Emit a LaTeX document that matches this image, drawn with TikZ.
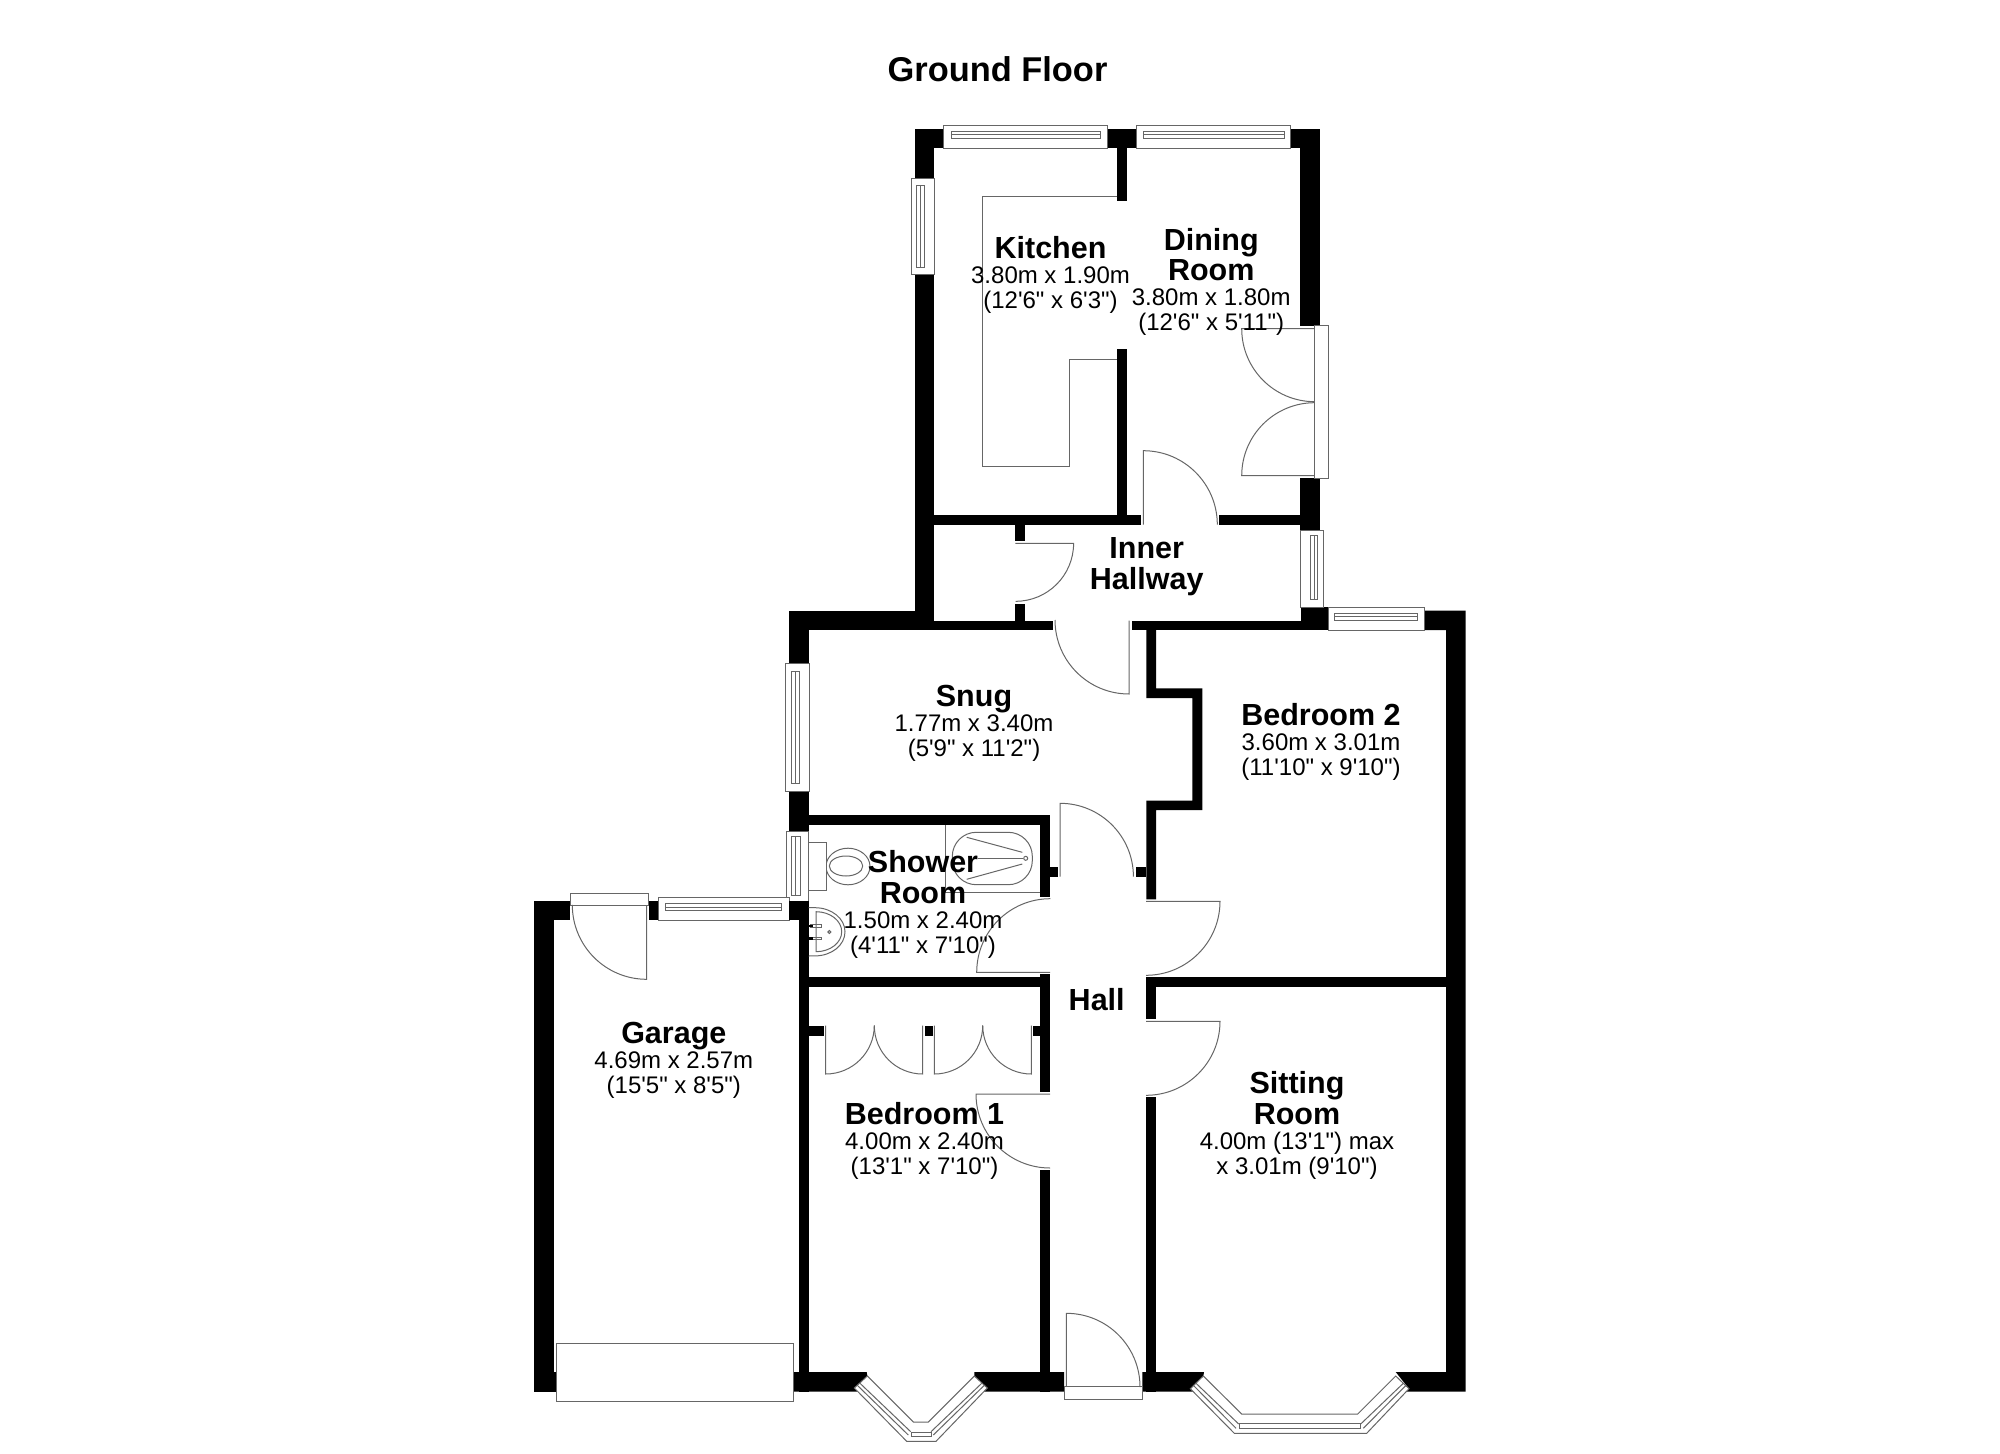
\documentclass[tikz,border=0pt]{standalone}
\usepackage{fontspec}
\newfontfamily\planfont{Liberation Sans}
\newcommand{\roomname}[1]{{\fontsize{15.25}{15.5}\selectfont\bfseries #1}}
\tikzset{
  wall/.style={fill=black},
  fixture/.style={draw=black!60,line width=0.5pt,fill=white},
  thinline/.style={draw=black!60,line width=0.5pt},
  room/.style={anchor=base,align=center,inner sep=0pt,font=\planfont\fontsize{12}{12.5}\selectfont}
}
\begin{document}
\begin{tikzpicture}[x=0.5pt,y=-0.5pt]
  \useasboundingbox (0,0) rectangle (2000,1454);
  % kitchen and dining room
  \fill [wall] (914.7,128.7) rectangle (943.7,148.3);
  \fill [wall] (1107.7,128.7) rectangle (1136.7,148.3);
  \fill [wall] (1290.7,128.7) rectangle (1320,148.3);
  \fill [wall] (914.7,128.7) rectangle (934,178.3);
  \fill [wall] (914.7,274.7) rectangle (934.3,630);
  \fill [wall] (1300,128.7) rectangle (1320,326);
  \fill [wall] (1300,478) rectangle (1320,530);
  \fill [wall] (1117.3,148) rectangle (1127.3,201);
  \fill [wall] (1117.3,349.3) rectangle (1127.3,515);
  \fill [wall] (934,514.7) rectangle (1141,524.5);
  \fill [wall] (1219,514.7) rectangle (1300,524.5);
  % inner hallway
  \fill [wall] (1015.3,524) rectangle (1025.3,541);
  \fill [wall] (1015.3,603.7) rectangle (1025.3,621);
  \fill [wall] (789,620.7) rectangle (1053.3,630);
  \fill [wall] (1131.8,620.7) rectangle (1328,630);
  \fill [wall] (1300.8,607.3) rectangle (1328,630);
  % snug and shower room
  \fill [wall] (789,610.7) rectangle (914.7,630);
  \fill [wall] (789,610.7) rectangle (809,663.3);
  \fill [wall] (789,791) rectangle (809,831);
  \fill [wall] (789,901) rectangle (808.7,920.3);
  \fill [wall] (809,815) rectangle (1050,825);
  \fill [wall] (1039.7,815) rectangle (1050,896.7);
  \fill [wall] (1050,867.3) rectangle (1058.3,876.7);
  \fill [wall] (799,901) rectangle (808.7,1391.7);
  \fill [wall] (808.7,977.3) rectangle (1050,987.3);
  % bedroom 1 and the front of the hall
  \fill [wall] (1040,974.3) rectangle (1050,1092);
  \fill [wall] (1040,1170) rectangle (1050,1391.7);
  \fill [wall] (808.7,1025.7) rectangle (824,1035.7);
  \fill [wall] (925,1025.7) rectangle (932.7,1035.7);
  \fill [wall] (1033,1025.7) rectangle (1040,1035.7);
  \fill [wall] (793.3,1372) -- (866.7,1372) -- (867.3,1376) -- (854.3,1388) -- (858,1391.7) -- (793.3,1391.7) -- cycle;
  \fill [wall] (974.3,1372) -- (1064,1372) -- (1064,1391.7) -- (984,1391.7) -- (987.3,1388) -- (974.3,1376) -- cycle;
  % bedroom 2 and sitting room
  \fill [wall] (1146.4,630) -- (1156,630) -- (1156,688.3) -- (1202.3,688.3) -- (1202.3,810) -- (1156,810) -- (1156,899.3) -- (1146.4,899.3) -- (1146.4,800.7) -- (1192.3,800.7) -- (1192.3,698) -- (1146.4,698) -- cycle;
  \fill [wall] (1135.7,867.3) rectangle (1146.4,877.3);
  \fill [wall] (1146.4,977.3) rectangle (1446,987.3);
  \fill [wall] (1146.4,977.3) rectangle (1156,1019.3);
  \fill [wall] (1146.4,1097.3) rectangle (1156,1391.7);
  \fill [wall] (1142.3,1372) -- (1204,1372) -- (1203.3,1376) -- (1190.3,1388.7) -- (1194,1391.7) -- (1142.3,1391.7) -- cycle;
  \fill [wall] (1395.7,1372) -- (1446,1372) -- (1446,630) -- (1424,630) -- (1424,610.7) -- (1465.7,610.7) -- (1465.7,1391.7) -- (1405.7,1391.7) -- (1409,1388.7) -- cycle;
  % garage
  \fill [wall] (533.7,900.7) rectangle (570.3,920.3);
  \fill [wall] (533.7,900.7) rectangle (553.7,1391.7);
  \fill [wall] (533.7,1372) rectangle (556.3,1391.7);
  \fill [wall] (648.7,900.7) rectangle (658.7,920.3);
  \fill [wall] (798.7,920) rectangle (808.7,1372);
  % windows
  \draw [fixture] (943.7,125.3) rectangle (1107.7,148.3);
  \draw [thinline] (951,131.7) rectangle (1100.7,138.3);
  \draw [thinline] (951,135) -- (1100.7,135);
  \draw [fixture] (1136.7,125.3) rectangle (1290.7,148.3);
  \draw [thinline] (1143,131.7) rectangle (1284,138.3);
  \draw [thinline] (1143,135) -- (1284,135);
  \draw [fixture] (911.7,178.3) rectangle (934,274.7);
  \draw [thinline] (916,186) rectangle (924.3,267.7);
  \draw [thinline] (920,186) -- (920,267.7);
  \draw [fixture] (1300.8,530) rectangle (1323.8,607.3);
  \draw [thinline] (1310.7,535.7) rectangle (1317.6,599);
  \draw [thinline] (1314,535.7) -- (1314,599);
  \draw [fixture] (1328,607.3) rectangle (1424,630);
  \draw [thinline] (1334,613) rectangle (1417,620);
  \draw [thinline] (1334,616.5) -- (1417,616.5);
  \draw [fixture] (785.7,663.3) rectangle (809,791);
  \draw [thinline] (791,671) rectangle (799,783.3);
  \draw [thinline] (795,671) -- (795,783.3);
  \draw [fixture] (786,831) rectangle (808.7,901);
  \draw [thinline] (791,836.7) rectangle (800,895);
  \draw [thinline] (795.5,836.7) -- (795.5,895);
  \draw [fixture] (658.7,897.7) rectangle (789.3,920.3);
  \draw [thinline] (665.7,903.3) rectangle (781.7,910.7);
  \draw [thinline] (665.7,907) -- (781.7,907);
  \fill [wall] (789.3,900.7) rectangle (808.7,920.3);
  % bay windows
  \draw [fixture] (854.3,1388) -- (906.7,1441.3) -- (936,1441.3) -- (987.3,1388) -- (974.3,1376) -- (928.3,1422) -- (913.3,1422) -- (867.3,1376) -- cycle;
  \draw [thinline] (857.3,1385.3) -- (908.3,1435);
  \draw [thinline] (860,1383.3) -- (910.7,1431.7);
  \draw [thinline] (984.3,1385.3) -- (933.3,1435);
  \draw [thinline] (981.7,1383.3) -- (931,1431.7);
  \draw [thinline] (911,1432) rectangle (931.7,1436.7);
  \draw [fixture] (1190.3,1388.7) -- (1234.3,1433.3) -- (1366.7,1433.3) -- (1409,1388.7) -- (1395.7,1376) -- (1357.7,1414) -- (1241.7,1414) -- (1203.3,1376) -- cycle;
  \draw [thinline] (1193.3,1385.3) -- (1236,1428.3);
  \draw [thinline] (1196,1383.3) -- (1238.7,1424);
  \draw [thinline] (1406,1385.3) -- (1363.3,1428.3);
  \draw [thinline] (1403.3,1383.3) -- (1360.7,1424);
  \draw [thinline] (1239.3,1423.7) rectangle (1360.7,1428.3);
  % doors
  \draw [thinline] (1143.3,524.7) -- (1143.3,450.7) arc[start angle=-90,end angle=0,radius=74];
  \draw [fixture] (1314.7,326) rectangle (1328,478);
  \draw [thinline] (1314.7,328.7) -- (1241.7,328.7) arc[start angle=180,end angle=90,radius=73];
  \draw [thinline] (1314.7,475.7) -- (1241.7,475.7) arc[start angle=180,end angle=270,radius=73];
  \draw [thinline] (1015.3,543.3) -- (1073.6,543.3) arc[start angle=0,end angle=90,radius=58];
  \draw [thinline] (1129,620.7) -- (1129,694) arc[start angle=90,end angle=180,radius=74];
  \draw [thinline] (1060,876.7) -- (1060,803.3) arc[start angle=-90,end angle=0,radius=73.4];
  \draw [thinline] (1146,901.3) -- (1220,901.3) arc[start angle=0,end angle=90,radius=74];
  \draw [thinline] (1050,972.3) -- (976.7,972.3) arc[start angle=180,end angle=270,radius=73.6];
  \draw [thinline] (1146,1021.3) -- (1220,1021.3) arc[start angle=0,end angle=90,radius=74];
  \draw [thinline] (1050,1094) -- (976,1094) arc[start angle=180,end angle=90,radius=74];
  \draw [thinline] (825.7,1025.7) -- (825.7,1074) arc[start angle=90,end angle=0,radius=48.6];
  \draw [thinline] (922.7,1025.7) -- (922.7,1074) arc[start angle=90,end angle=180,radius=48.4];
  \draw [thinline] (934.3,1025.7) -- (934.3,1074) arc[start angle=90,end angle=0,radius=48.4];
  \draw [thinline] (1031.3,1025.7) -- (1031.3,1074) arc[start angle=90,end angle=180,radius=48.6];
  \draw [fixture] (570.3,893) rectangle (648.7,905);
  \draw [thinline] (646.7,905) -- (646.7,979.3) arc[start angle=90,end angle=180,radius=74.4];
  \draw [fixture] (1064,1386.7) rectangle (1142.3,1399.3);
  \draw [thinline] (1066.3,1386.7) -- (1066.3,1313.3) arc[start angle=-90,end angle=0,radius=73.7];
  \draw [fixture] (556.3,1343.3) rectangle (793.3,1401.3);
  % kitchen worktop
  \draw [thinline] (1117.3,196.7) -- (982,196.7) -- (982,466.3) -- (1069.3,466.3) -- (1069.3,359.3) -- (1117.3,359.3);
  % shower room fittings
  \draw [thinline] (1040,892) -- (945,892) -- (945,825);
  \draw [thinline,rounded corners=12] (952.3,832.3) rectangle (1032.3,884.7);
  \draw [thinline] (966.7,837.3) -- (1022.3,852.3);
  \draw [thinline] (966.7,879.3) -- (1022.3,864);
  \draw [thinline] (978,858.3) -- (1023,858.3);
  \draw [thinline] (1025.7,858.3) circle (2);
  \draw [fixture] (848,866.5) ellipse (22 and 18.3);
  \draw [thinline] (846,866) ellipse (16.7 and 10);
  \draw [fixture] (808.7,842) rectangle (826,890);
  \draw [thinline] (808.7,907.7) -- (815,907.7) arc[start angle=-90,end angle=90,x radius=30,y radius=24.1] -- (808.7,956);
  \draw [thinline] (816,911.7) arc[start angle=-90,end angle=90,x radius=25.7,y radius=20] -- cycle;
  \draw [thinline] (810,924.5) rectangle (821.7,927);
  \draw [thinline] (810,937) rectangle (821.7,939.5);
  \fill [wall] (809,924.5) rectangle (813,927);
  \fill [wall] (809,937) rectangle (813,939.5);
  \draw [thinline] (829.3,932) circle (1.5);
  % labels
  \node [room,font=\planfont\fontsize{17.2}{18}\selectfont\bfseries] (title) at (997.5,81.7) {Ground Floor};
  \node [room] (kitchen) at (1050.5,308.2) {\roomname{Kitchen}\\3.80m x 1.90m\\(12'6" x 6'3")};
  \node [room] (dining) at (1211.2,331) {\roomname{Dining}\\[0.5pt]\roomname{Room}\\3.80m x 1.80m\\(12'6" x 5'11")};
  \node [room] (innerhall) at (1146.7,589.3) {\roomname{Inner}\\[3pt]\roomname{Hallway}};
  \node [room] (snug) at (974,756) {\roomname{Snug}\\1.77m x 3.40m\\(5'9" x 11'2")};
  \node [room] (bedtwo) at (1321,775.8) {\roomname{Bedroom 2}\\3.60m x 3.01m\\(11'10" x 9'10")};
  \node [room] (shower) at (923,953) {\roomname{Shower}\\[3pt]\roomname{Room}\\1.50m x 2.40m\\(4'11" x 7'10")};
  \node [room] (hall) at (1096.7,1010) {\roomname{Hall}};
  \node [room] (garage) at (673.8,1093) {\roomname{Garage}\\4.69m x 2.57m\\(15'5" x 8'5")};
  \node [room] (bedone) at (924.5,1174) {\roomname{Bedroom 1}\\4.00m x 2.40m\\(13'1" x 7'10")};
  \node [room] (sitting) at (1297,1174) {\roomname{Sitting}\\[0.5pt]\roomname{Room}\\4.00m (13'1") max\\x 3.01m (9'10")};
\end{tikzpicture}
\end{document}
